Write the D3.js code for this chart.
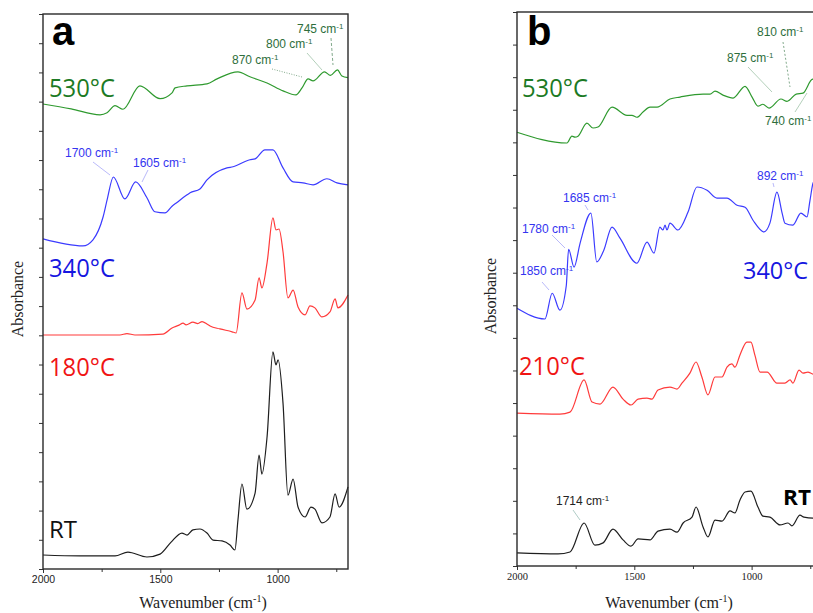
<!DOCTYPE html>
<html>
<head>
<meta charset="utf-8">
<script src="https://cdn.jsdelivr.net/npm/d3@7"></script>
<style>
  body { margin: 0; background: #fff; }
  svg { display: block; }
</style>
</head>
<body>
<svg id="chart" width="813" height="613"></svg>
<script>
// ---------- data: [wavenumber (cm-1), absorbance (offset, arbitrary units)] ----------
const wavenumberMajor = [2000, 1500, 1000];
const wavenumberMinor = [1750, 1250, 750];

// panel a
const a530 = [[2000,15.92],[1880,15.75],[1757,15.55],[1727,15.62],[1693,15.86],[1659,15.74],[1587,16.54],[1501,16.10],[1450,16.30],[1437,16.47],[1386,16.54],[1301,16.61],[1258,16.78],[1169,17.02],[1118,16.85],[1045,16.64],[977,16.37],[922,16.23],[896,16.47],[870,16.78],[849,16.71],[800,17.02],[775,16.90],[745,17.09],[726,16.88],[700,16.82]];
const a340 = [[2000,11.30],[1830,11.06],[1787,11.27],[1744,12.05],[1725,12.70],[1700,13.42],[1651,12.67],[1605,13.25],[1557,12.71],[1523,12.23],[1480,12.19],[1450,12.42],[1429,12.55],[1386,12.81],[1373,12.88],[1331,13.01],[1301,13.32],[1216,13.73],[1190,13.77],[1118,14.01],[1096,14.04],[1054,14.35],[1020,14.35],[977,13.73],[934,13.25],[892,13.22],[849,13.15],[790,13.36],[747,13.22],[700,13.15]];
const a180 = [[2000,8.01],[1760,8.01],[1672,8.01],[1642,8.06],[1608,8.01],[1489,8.04],[1450,8.25],[1420,8.35],[1403,8.42],[1390,8.36],[1361,8.45],[1340,8.40],[1322,8.47],[1300,8.38],[1288,8.32],[1246,8.22],[1194,8.12],[1177,8.08],[1152,9.45],[1131,8.90],[1096,9.21],[1079,9.97],[1067,9.62],[1045,10.48],[1020,12.02],[1007,11.61],[994,11.64],[977,10.86],[956,9.28],[934,9.55],[913,8.97],[883,8.70],[862,9.01],[841,8.94],[811,8.63],[777,8.80],[755,9.25],[743,8.94],[700,9.38]];
const aRT = [[2000,0.48],[1842,0.45],[1693,0.45],[1638,0.58],[1557,0.41],[1501,0.51],[1454,0.92],[1408,1.23],[1386,1.16],[1361,1.34],[1331,1.37],[1301,1.23],[1275,0.99],[1237,0.96],[1203,0.82],[1182,0.65],[1169,1.68],[1152,2.91],[1131,2.05],[1096,2.60],[1079,3.90],[1067,3.25],[1045,4.52],[1020,7.43],[1007,6.99],[998,7.16],[977,5.68],[956,2.53],[934,3.08],[913,2.12],[883,1.78],[858,2.12],[841,2.05],[811,1.58],[777,1.78],[755,2.57],[738,2.12],[700,2.81]];

// panel b
const b530 = [[2000,13.31],[1787,12.98],[1766,13.19],[1753,13.16],[1740,13.19],[1702,13.59],[1676,13.44],[1655,13.47],[1595,14.08],[1531,13.83],[1510,13.83],[1489,13.77],[1463,13.93],[1433,14.08],[1403,14.08],[1348,14.33],[1305,14.39],[1207,14.48],[1177,14.48],[1156,14.57],[1122,14.45],[1079,14.36],[1028,14.72],[998,14.39],[973,14.11],[952,14.17],[926,14.05],[875,14.33],[849,14.26],[810,14.48],[781,14.51],[740,14.94],[725,14.80],[700,14.66]];
const b340 = [[2000,7.91],[1881,7.58],[1850,8.37],[1817,7.85],[1790,8.60],[1780,9.72],[1757,9.17],[1731,9.91],[1685,10.83],[1660,9.33],[1630,9.69],[1595,10.40],[1561,10.06],[1489,9.29],[1446,9.94],[1416,9.60],[1391,10.40],[1378,10.31],[1369,10.46],[1361,10.31],[1348,10.52],[1314,10.31],[1271,10.86],[1233,11.63],[1190,11.53],[1148,11.29],[1105,11.29],[1062,11.07],[1028,11.01],[994,10.61],[947,10.25],[922,10.52],[892,11.47],[870,10.83],[858,10.52],[824,10.46],[790,10.83],[764,10.71],[751,11.23],[738,11.75],[700,12.10]];
const b210 = [[2000,4.69],[1817,4.66],[1774,4.72],[1714,5.71],[1680,5.03],[1646,4.97],[1591,5.49],[1548,5.12],[1514,4.94],[1484,5.12],[1446,5.15],[1425,5.12],[1399,5.40],[1348,5.49],[1318,5.43],[1297,5.61],[1263,5.92],[1237,6.26],[1212,5.80],[1186,5.25],[1156,5.80],[1126,5.80],[1105,6.10],[1084,6.20],[1071,6.10],[1050,6.47],[1020,6.87],[1003,6.87],[986,6.47],[964,5.95],[934,5.95],[892,5.61],[858,5.61],[836,5.71],[824,5.61],[798,6.01],[781,5.92],[760,5.95],[738,5.89],[700,5.95]];
const bRT = [[2000,0.40],[1825,0.37],[1774,0.43],[1714,1.32],[1668,0.64],[1633,0.71],[1591,1.13],[1548,0.80],[1514,0.61],[1484,0.83],[1433,0.80],[1399,1.07],[1348,1.13],[1318,1.04],[1292,1.32],[1254,1.50],[1237,1.81],[1207,1.20],[1186,0.89],[1156,1.41],[1126,1.38],[1092,1.69],[1071,1.63],[1050,2.02],[1028,2.27],[1003,2.30],[973,1.81],[952,1.53],[922,1.50],[879,1.26],[845,1.32],[828,1.23],[794,1.56],[777,1.50],[738,1.47],[700,1.50]];

const tempsA = ["530°C", "340°C", "180°C", "RT"];
const tempsB = ["530°C", "340°C", "210°C", "RT"];
const peaksA = ["745", "800", "870", "1700", "1605"];
const peaksB = ["810", "875", "740", "892", "1685", "1780", "1850", "1714"];

// ---------- styling ----------
const COL = {
  green: "#2f9a2f", greenText: "#1c7a24", greenNote: "#2e6e3c",
  blue: "#3b3bff", blueText: "#1616e0", blueNote: "#3434f0",
  red: "#ff3b3b", redText: "#f01414",
  black: "#1e1e1e"
};

const svg = d3.select("#chart");

function drawPanel(cfg) {
  const x = d3.scaleLinear().domain([2000, 700]).range([cfg.left, cfg.right]);
  const y = d3.scaleLinear().domain([0, cfg.units]).range([cfg.bottom, cfg.top]);
  const g = svg.append("g");

  // left ticks (no labels)
  g.append("g")
    .attr("transform", `translate(${cfg.left},0)`)
    .call(d3.axisLeft(y).tickValues(d3.range(0, cfg.units + 1)).tickSize(4).tickFormat(""))
    .call(s => s.select(".domain").remove())
    .call(s => s.selectAll("line").attr("stroke", "#333").attr("stroke-width", 1));

  // bottom minor ticks
  g.append("g")
    .attr("transform", `translate(0,${cfg.bottom})`)
    .call(d3.axisBottom(x).tickValues(wavenumberMinor).tickSize(3).tickFormat(""))
    .call(s => s.select(".domain").remove())
    .call(s => s.selectAll("line").attr("stroke", "#333"));

  // bottom major ticks + labels
  g.append("g")
    .attr("transform", `translate(0,${cfg.bottom})`)
    .call(d3.axisBottom(x).tickValues(wavenumberMajor).tickSize(4).tickPadding(3).tickFormat(d3.format("d")))
    .call(s => s.select(".domain").remove())
    .call(s => s.selectAll("line").attr("stroke", "#333"))
    .call(s => s.selectAll("text")
      .attr("fill", "#222")
      .style("font-family", cfg.tickFont)
      .style("font-size", "10.5px"));

  // spectra
  const line = d3.line()
    .x(d => x(d[0]))
    .y(d => y(d[1]))
    .curve(d3.curveMonotoneX);
  cfg.series.forEach(s => {
    g.append("path")
      .datum(s.data)
      .attr("d", line)
      .attr("fill", "none")
      .attr("stroke", s.color)
      .attr("stroke-width", 1.2)
      .attr("stroke-linejoin", "round");
  });

  // frame
  g.append("rect")
    .attr("x", cfg.left).attr("y", cfg.top)
    .attr("width", cfg.right - cfg.left).attr("height", cfg.bottom - cfg.top)
    .attr("fill", "none").attr("stroke", "#2a2a2a").attr("stroke-width", 1.4);

  // panel letter
  g.append("text")
    .attr("x", cfg.letterX).attr("y", 45)
    .attr("font-family", "'Liberation Sans', Arial, sans-serif")
    .attr("font-weight", "bold").attr("font-size", 40)
    .attr("fill", "#000")
    .text(cfg.letter);

  // temperature labels
  cfg.temps.forEach((t, i) => {
    const p = cfg.tempPos[i];
    g.append("text")
      .attr("x", p.x).attr("y", p.y)
      .attr("font-family", "'Open Sans', 'Noto Sans', sans-serif")
      .attr("font-size", p.size)
      .attr("font-weight", p.bold ? "bold" : "normal")
      .attr("textLength", p.w)
      .attr("lengthAdjust", "spacingAndGlyphs")
      .attr("fill", p.color)
      .text(t);
  });

  // peak annotations
  cfg.peaks.forEach((pk, i) => {
    const n = cfg.notePos[i];
    if (n.lx1 !== undefined) {
      g.append("line")
        .attr("x1", n.lx1).attr("y1", n.ly1).attr("x2", n.lx2).attr("y2", n.ly2)
        .attr("stroke", n.lineColor || n.color)
        .attr("stroke-opacity", 0.75)
        .attr("stroke-width", 0.8)
        .attr("stroke-dasharray", n.dash || null);
    }
    const t = g.append("text")
      .attr("x", n.x).attr("y", n.y)
      .attr("font-family", "'Liberation Sans', Arial, sans-serif")
      .attr("font-size", 12)
      .attr("fill", n.color);
    t.append("tspan").text(pk + " cm");
    t.append("tspan").attr("dy", -4.5).attr("font-size", 8).text("-1");
  });

  // axis titles
  const xt = g.append("text")
    .attr("x", cfg.titleX).attr("y", 608)
    .attr("text-anchor", "middle")
    .attr("font-family", "'Liberation Serif', 'Times New Roman', serif")
    .attr("font-size", 16)
    .attr("fill", "#222");
  xt.append("tspan").text("Wavenumber (cm");
  xt.append("tspan").attr("dy", -6).attr("font-size", 10).text("-1");
  xt.append("tspan").attr("dy", 6).text(")");

  g.append("text")
    .attr("transform", `translate(${cfg.absX},${cfg.absY}) rotate(-90)`)
    .attr("text-anchor", "middle")
    .attr("font-family", "'Liberation Serif', 'Times New Roman', serif")
    .attr("font-size", 16)
    .attr("fill", "#222")
    .text("Absorbance");
}

drawPanel({
  left: 43, right: 348, top: 14, bottom: 569, units: 19,
  letter: "a", letterX: 52, titleX: 203, absX: 23, absY: 299,
  tickFont: "'Liberation Sans', Arial, sans-serif",
  series: [
    { data: a530, color: COL.green },
    { data: a340, color: COL.blue },
    { data: a180, color: COL.red },
    { data: aRT, color: COL.black }
  ],
  temps: tempsA,
  tempPos: [
    { x: 49, y: 97, size: 26, w: 66, color: COL.greenText },
    { x: 49, y: 277, size: 26, w: 66, color: COL.blueText },
    { x: 49, y: 376, size: 26, w: 66, color: COL.redText },
    { x: 49, y: 538, size: 23, w: 28, color: "#111" }
  ],
  peaks: peaksA,
  notePos: [
    { x: 297, y: 33, lx1: 331, ly1: 38, lx2: 333, ly2: 65, dash: "3,2", color: COL.greenNote },
    { x: 266, y: 48, lx1: 307, ly1: 53, lx2: 322, ly2: 70, color: COL.greenNote, lineColor: "#7fae8c" },
    { x: 232, y: 64, lx1: 272, ly1: 69, lx2: 302, ly2: 77, dash: "1,1.5", color: COL.greenNote },
    { x: 65, y: 157, lx1: 93, ly1: 162, lx2: 110, ly2: 175, color: COL.blueNote, lineColor: "#8a8af5" },
    { x: 133, y: 167, lx1: 148, ly1: 170, lx2: 142, ly2: 182, color: COL.blueNote, lineColor: "#8a8af5" }
  ]
});

drawPanel({
  left: 517, right: 822, top: 12, bottom: 566, units: 17,
  letter: "b", letterX: 527, titleX: 669, absX: 496, absY: 296,
  tickFont: "'Liberation Serif', 'Times New Roman', serif",
  series: [
    { data: b530, color: COL.green },
    { data: b340, color: COL.blue },
    { data: b210, color: COL.red },
    { data: bRT, color: COL.black }
  ],
  temps: tempsB,
  tempPos: [
    { x: 522, y: 97, size: 26, w: 66, color: COL.greenText },
    { x: 743, y: 279, size: 24, w: 65, color: COL.blueText },
    { x: 519, y: 375, size: 26, w: 66, color: COL.redText },
    { x: 783, y: 505, size: 21, w: 28, bold: true, color: "#000" }
  ],
  peaks: peaksB,
  notePos: [
    { x: 757, y: 36, lx1: 783, ly1: 42, lx2: 790, ly2: 87, dash: "2,2", color: COL.greenNote },
    { x: 727, y: 62, lx1: 748, ly1: 67, lx2: 772, ly2: 92, color: COL.greenNote, lineColor: "#7fae8c" },
    { x: 765, y: 125, lx1: 795, ly1: 112, lx2: 807, ly2: 93, color: COL.greenNote, lineColor: "#7fae8c" },
    { x: 757, y: 180, lx1: 773, ly1: 183, lx2: 774, ly2: 187, color: COL.blueNote, lineColor: "#8a8af5" },
    { x: 563, y: 202, lx1: 585, ly1: 205, lx2: 588, ly2: 210, color: COL.blueNote, lineColor: "#8a8af5" },
    { x: 522, y: 233, lx1: 552, ly1: 235, lx2: 565, ly2: 248, color: COL.blueNote, lineColor: "#8a8af5" },
    { x: 520, y: 275, lx1: 542, ly1: 282, lx2: 549, ly2: 290, color: COL.blueNote, lineColor: "#8a8af5" },
    { x: 556, y: 505, lx1: 573, ly1: 510, lx2: 580, ly2: 520, color: "#222", lineColor: "#7aaaa0" }
  ]
});
</script>
</body>
</html>
